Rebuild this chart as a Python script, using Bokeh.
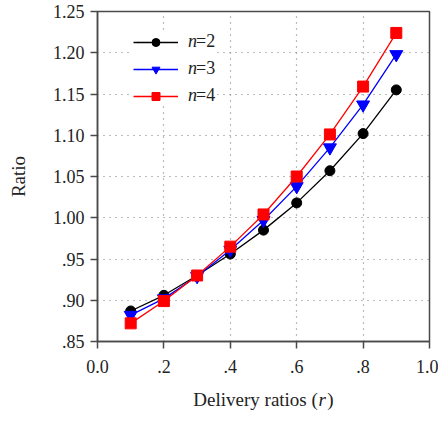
from bokeh.plotting import figure
from bokeh.models import (Range1d, FixedTicker, Legend, LegendItem, Label)
from bokeh.embed import file_html
from bokeh.resources import INLINE

# ---- data ----
r = [0.1, 0.2, 0.3, 0.4, 0.5, 0.6, 0.7, 0.8, 0.9]
ratio_n2 = [0.887, 0.906, 0.930, 0.956, 0.985, 1.018, 1.057, 1.102, 1.155]
ratio_n3 = [0.882, 0.902, 0.929, 0.961, 0.997, 1.038, 1.085, 1.137, 1.198]
ratio_n4 = [0.872, 0.899, 0.930, 0.965, 1.004, 1.050, 1.101, 1.159, 1.224]
series_names = ["=2", "=3", "=4"]

x_ticks = [0.0, 0.2, 0.4, 0.6, 0.8, 1.0]
x_tick_labels = ["0.0", ".2", ".4", ".6", ".8", "1.0"]
y_ticks = [0.85, 0.90, 0.95, 1.00, 1.05, 1.10, 1.15, 1.20, 1.25]
y_tick_labels = [".85", ".90", ".95", "1.00", "1.05", "1.10", "1.15", "1.20", "1.25"]

FONT = "Liberation Serif"
AX = "#4a4a4a"
TXT = "#222222"

p = figure(width=438, height=422, output_backend="svg", toolbar_location=None,
           x_range=Range1d(0, 1), y_range=Range1d(0.85, 1.25),
           min_border_left=97, min_border_right=9, min_border_top=11,
           min_border_bottom=81)
p.background_fill_color = "white"
p.border_fill_color = "white"
p.outline_line_color = AX
p.outline_line_width = 1.5

for ax in (p.xaxis[0], p.yaxis[0]):
    ax.axis_line_color = AX
    ax.axis_line_width = 1.5
    ax.major_tick_line_color = AX
    ax.major_tick_line_width = 1.5
    ax.major_tick_out = 7
    ax.major_tick_in = 0
    ax.minor_tick_line_color = None
    ax.major_label_text_font = FONT
    ax.major_label_text_font_size = "18px"
    ax.major_label_text_color = TXT
    ax.axis_label_text_font = FONT
    ax.axis_label_text_font_size = "19px"
    ax.axis_label_text_font_style = "normal"
    ax.axis_label_text_color = TXT

p.xaxis[0].ticker = FixedTicker(ticks=x_ticks)
p.xaxis[0].major_label_overrides = dict(zip(x_ticks, x_tick_labels))
p.xaxis[0].major_label_standoff = 11
p.xaxis[0].axis_label = "Delivery ratios (\u2002)"
p.xaxis[0].axis_label_standoff = 13

p.yaxis[0].ticker = FixedTicker(ticks=y_ticks)
p.yaxis[0].major_label_overrides = dict(zip(y_ticks, y_tick_labels))
p.yaxis[0].major_label_standoff = 6
p.yaxis[0].axis_label = "Ratio"
p.yaxis[0].axis_label_standoff = 21

for g in (p.xgrid[0], p.ygrid[0]):
    g.grid_line_color = "#7a7a7a"
    g.grid_line_dash = "1 5"
    g.grid_line_width = 1.2

colors = ["black", "#0000ff", "#ff0000"]
markers = ["circle", "inverted_triangle", "square"]
sizes = [10, 13, 11]
series = [ratio_n2, ratio_n3, ratio_n4]

items, n_items = [], []
for ys, c, m, s, name in zip(series, colors, markers, sizes, series_names):
    ln = p.line(r, ys, line_color=c, line_width=1.3)
    sc = p.scatter(r, ys, marker=m, size=s, fill_color=c, line_color=c)
    items.append(LegendItem(label=name, renderers=[ln, sc]))
    n_items.append(LegendItem(label="n", renderers=[ln]))

common = dict(orientation="vertical", border_line_color=None, padding=17,
              spacing=6, margin=0, glyph_height=20, label_height=20,
              label_text_font=FONT, label_text_font_size="18px",
              label_text_color=TXT)

legend = Legend(items=items, location=(36, 235),
                background_fill_color="white", background_fill_alpha=1.0,
                glyph_width=45, label_standoff=18, level="underlay", **common)
p.add_layout(legend, "center")

# italic "n" of the legend labels (a second, transparent legend on top)
legend_n = Legend(items=n_items, location=(41, 235),
                  background_fill_alpha=0.0, glyph_width=1, label_standoff=49,
                  label_text_font_style="italic", **common)
p.add_layout(legend_n, "center")

# italic r of the x-axis title
p.add_layout(Label(x=-111, y=-58, x_units="screen", y_units="screen",
                   text="r", text_font=FONT, text_font_size="19px",
                   text_font_style="italic", text_color=TXT,
                   text_baseline="middle", text_align="left"), "right")

open("out.html", "w").write(file_html(p, INLINE))
